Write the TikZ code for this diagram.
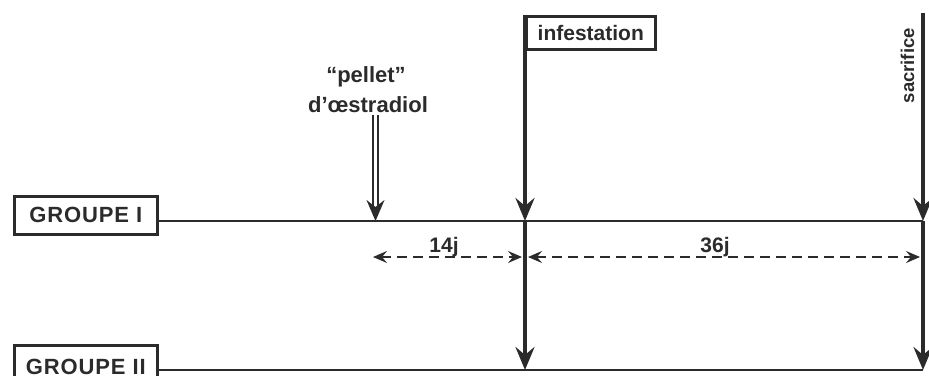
\documentclass[tikz,border=0pt]{standalone}
\usepackage{fontspec}
\setmainfont{Liberation Sans}
\usetikzlibrary{arrows.meta}
\definecolor{ink}{HTML}{2B2B2B}
\tikzset{
  lbl/.style={font=\fontsize{22}{24}\selectfont\bfseries, text=ink, inner sep=0pt},
  groupbox/.style={draw=ink, line width=2.5pt, minimum width=143pt, inner sep=0pt,
    font=\fontsize{22}{24}\selectfont\bfseries\addfontfeature{LetterSpace=4}, text=ink, anchor=north west},
  timeline/.style={draw=ink, line width=2pt},
  bigarrow/.style={draw=ink, line width=4.5pt, -{Stealth[length=23pt,width=19pt,inset=8pt]}},
  dimline/.style={draw=ink, line width=1.8pt, dash pattern=on 10pt off 6pt,
    {Stealth[length=14pt,width=12pt,inset=5pt]}-{Stealth[length=14pt,width=12pt,inset=5pt]}},
  pelletarrow/.style={draw=ink, line width=1.3pt, double=white, double distance=3.5pt,
    -{Stealth[length=21pt,width=18pt,inset=7pt]}}
}
\begin{document}
\begin{tikzpicture}[x=1pt,y=-1pt]
\useasboundingbox (0,0) rectangle (929,375);
\clip (0,0) rectangle (929,375);

% group boxes
\node[groupbox, minimum height=38pt] (g1) at (13,195) {GROUPE I};
\node[groupbox, minimum height=44pt] (g2) at (13,344) {GROUPE II};

% infestation box
\node[draw=ink, line width=2.5pt, anchor=north west, minimum width=129pt, minimum height=33pt,
  inner sep=0pt, font=\fontsize{21}{23}\selectfont\bfseries, text=ink] (inf) at (525,15) {infestation};

% key coordinates
\coordinate (i1) at (525,221);
\coordinate (i2) at (525,370);
\coordinate (s0) at (923,13);
\coordinate (s1) at (923,221);
\coordinate (s2) at (923,370);

% time lines
\draw[timeline] (g1.east |- i1) -- (s1);
\draw[timeline] (g2.east |- i2) -- (s2);

% infestation arrows
\draw[bigarrow] (inf.north west) -- (i1);
\draw[bigarrow] (i1) -- (i2);

% sacrifice
\node[lbl, font=\fontsize{18.5}{21}\selectfont\bfseries, rotate=90, anchor=base east] (sac) at (914,28) {sacrifice};
\draw[bigarrow] (s0) -- (s1);
\draw[bigarrow] (s1) -- (s2);

% pellet
\node[lbl, anchor=base] (pel) at (366,82) {“pellet”};
\node[lbl, anchor=base] (oes) at (368,112) {d’œstradiol};
\coordinate (p1) at (375.5,221);
\draw[pelletarrow] (p1 |- oes.south) ++(0,3) -- (p1);

% dimension lines
\coordinate (d1) at (373,257);
\coordinate (d2) at (522,257);
\coordinate (d3) at (528,257);
\coordinate (d4) at (920,257);
\draw[dimline] (d1) -- (d2);
\draw[dimline] (d3) -- (d4);
\node[lbl, font=\fontsize{21}{23}\selectfont\bfseries, anchor=base] (t14) at (444,252) {14j};
\node[lbl, font=\fontsize{21}{23}\selectfont\bfseries, anchor=base] (t36) at (715,252) {36j};
\end{tikzpicture}
\end{document}
